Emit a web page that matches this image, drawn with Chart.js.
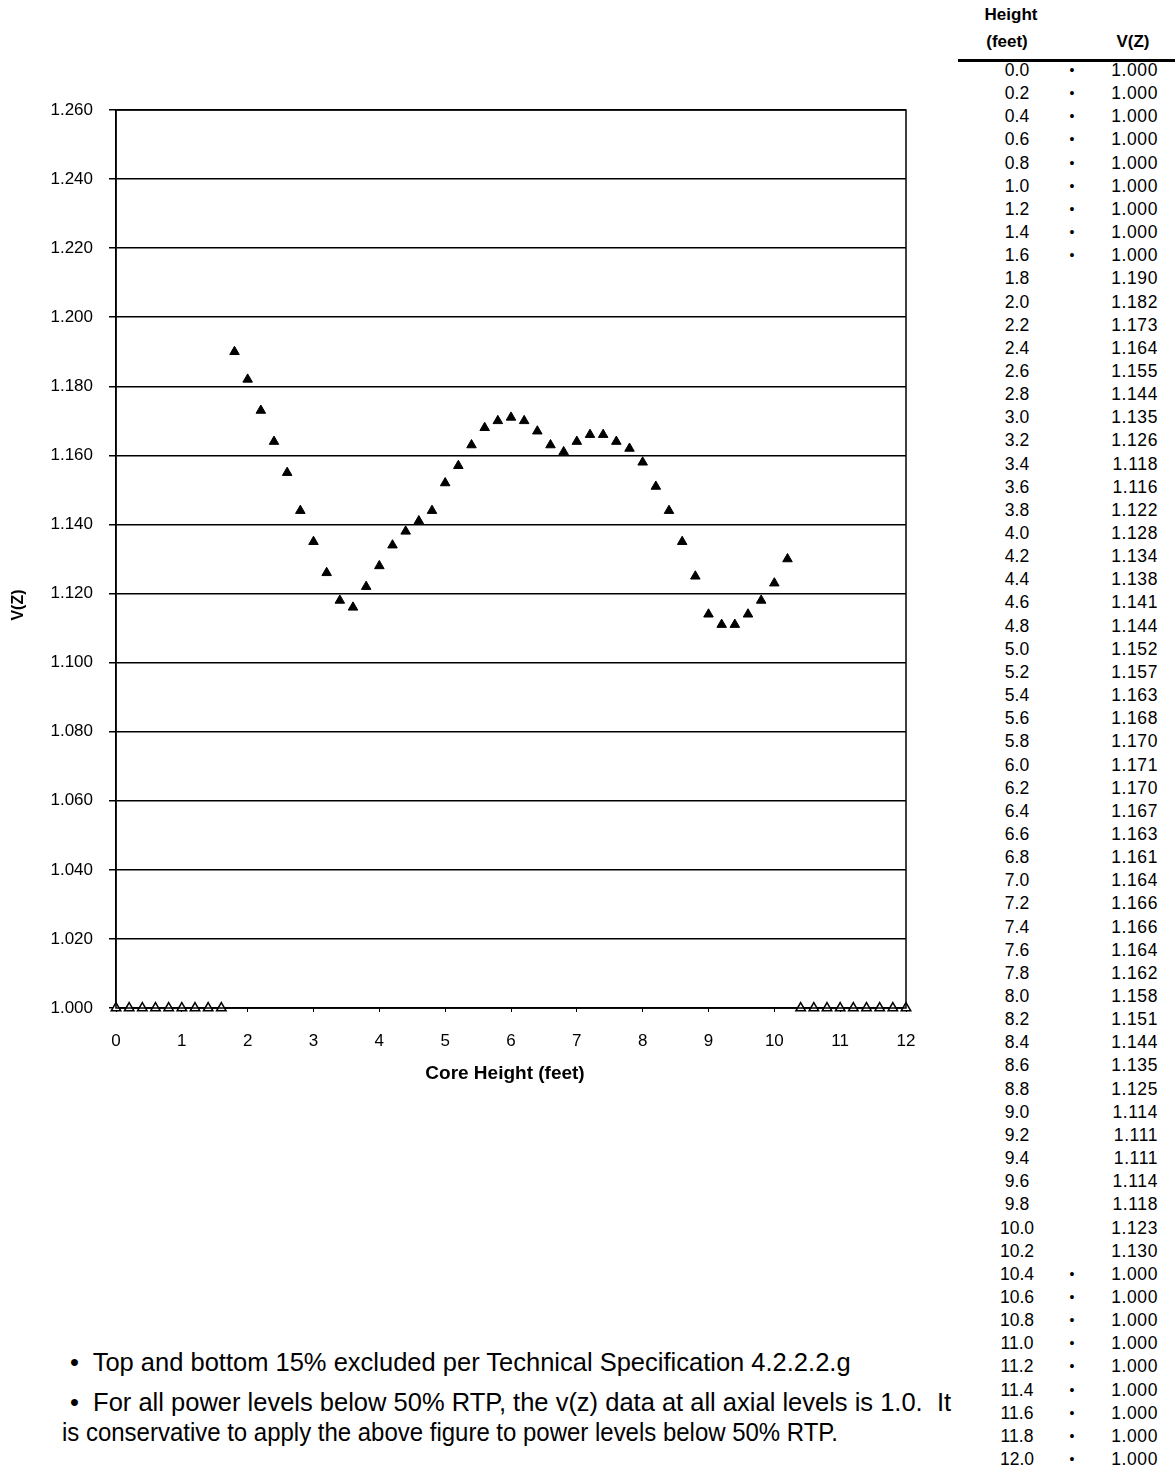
<!DOCTYPE html>
<html>
<head>
<meta charset="utf-8">
<script src="https://cdn.jsdelivr.net/npm/chart.js@4.4.0/dist/chart.umd.min.js"></script>
<style>
  html, body { margin: 0; padding: 0; background: #fff; }
  body { width: 1175px; height: 1472px; position: relative; overflow: hidden; font-family: "Liberation Sans", Arial, sans-serif; color: #000; }
  #wrap { position: absolute; left: 0; top: 0; width: 940px; height: 1100px; }
  .cell { position: absolute; font-size: 17.5px; line-height: 20px; }
  .hdr { position: absolute; font-size: 17px; font-weight: bold; line-height: 20px; }
  .note { position: absolute; font-size: 25.5px; line-height: 30px; white-space: nowrap; transform-origin: left center; }
</style>
</head>
<body>
<div id="wrap"><canvas id="c"></canvas></div>
<div id="table"></div>
<div class="note" style="left:70px; top:1347px;">•&nbsp; Top and bottom 15% excluded per Technical Specification 4.2.2.2.g</div>
<div class="note" style="left:70px; top:1387px;">•&nbsp; For all power levels below 50% RTP, the v(z) data at all axial levels is 1.0.&nbsp; It</div>
<div class="note" style="left:62px; top:1417px; transform:scaleX(0.94);">is conservative to apply the above figure to power levels below 50% RTP.</div>
<script>
// ---- data ----
const heights = [0.0,0.2,0.4,0.6,0.8,1.0,1.2,1.4,1.6,1.8,2.0,2.2,2.4,2.6,2.8,3.0,3.2,3.4,3.6,3.8,4.0,4.2,4.4,4.6,4.8,5.0,5.2,5.4,5.6,5.8,6.0,6.2,6.4,6.6,6.8,7.0,7.2,7.4,7.6,7.8,8.0,8.2,8.4,8.6,8.8,9.0,9.2,9.4,9.6,9.8,10.0,10.2,10.4,10.6,10.8,11.0,11.2,11.4,11.6,11.8,12.0];
const vz = [1.000,1.000,1.000,1.000,1.000,1.000,1.000,1.000,1.000,1.190,1.182,1.173,1.164,1.155,1.144,1.135,1.126,1.118,1.116,1.122,1.128,1.134,1.138,1.141,1.144,1.152,1.157,1.163,1.168,1.170,1.171,1.170,1.167,1.163,1.161,1.164,1.166,1.166,1.164,1.162,1.158,1.151,1.144,1.135,1.125,1.114,1.111,1.111,1.114,1.118,1.123,1.130,1.000,1.000,1.000,1.000,1.000,1.000,1.000,1.000,1.000];
const excluded = [true,true,true,true,true,true,true,true,true,false,false,false,false,false,false,false,false,false,false,false,false,false,false,false,false,false,false,false,false,false,false,false,false,false,false,false,false,false,false,false,false,false,false,false,false,false,false,false,false,false,false,false,true,true,true,true,true,true,true,true,true];
const xTicks = [0,1,2,3,4,5,6,7,8,9,10,11,12];
const yMin = 1.000, yMax = 1.260, yStep = 0.020;
const xTitle = 'Core Height (feet)';
const yTitle = 'V(Z)';

// ---- table ----
const table = document.getElementById('table');
function add(cls, text, style) {
  const d = document.createElement('div');
  d.className = cls; d.textContent = text; d.setAttribute('style', style); table.appendChild(d);
}
add('hdr', 'Height', 'left:961px; top:5px; width:100px; text-align:center;');
add('hdr', '(feet)', 'left:957px; top:32px; width:100px; text-align:center;');
add('hdr', 'V(Z)', 'left:1093px; top:32px; width:80px; text-align:center;');
const line = document.createElement('div');
line.setAttribute('style', 'position:absolute; left:958px; top:59px; width:217px; height:3px; background:#000;');
table.appendChild(line);
heights.forEach((h, i) => {
  const y = 60 + i * 23.15;
  add('cell', h.toFixed(1), `left:977px; top:${y}px; width:80px; text-align:center;`);
  if (excluded[i]) add('cell', '•', `left:1062px; top:${y}px; width:20px; text-align:center; font-size:14px;`);
  add('cell', vz[i].toFixed(3), `left:1080px; top:${y}px; width:78px; text-align:right; letter-spacing:0.6px;`);
});

// ---- chart ----
const inc = [], exc = [];
heights.forEach((h, i) => { (excluded[i] ? exc : inc).push({x: h, y: vz[i]}); });

const framePlugin = {
  id: 'frame',
  afterDraw(chart) {
    const a = chart.chartArea, ctx = chart.ctx;
    ctx.save(); ctx.strokeStyle = '#000'; ctx.lineWidth = 1.5;
    ctx.strokeRect(a.left, a.top, a.right - a.left, a.bottom - a.top);
    ctx.fillStyle = '#000';
    ctx.font = 'bold 19px "Liberation Sans", Arial, sans-serif';
    ctx.textAlign = 'center'; ctx.textBaseline = 'middle';
    ctx.fillText(xTitle, (a.left + a.right) / 2 - 6, 1074);
    ctx.translate(19, 605); ctx.rotate(-Math.PI / 2);
    ctx.font = 'bold 16px "Liberation Sans", Arial, sans-serif';
    ctx.fillText(yTitle, 0, 0);
    ctx.restore();
  }
};

new Chart(document.getElementById('c'), {
  type: 'scatter',
  data: {
    datasets: [
      { label: 'Included', data: inc, clip: false, pointStyle: 'triangle', pointRadius: 5.5, backgroundColor: '#000', borderColor: '#000', borderWidth: 1 },
      { label: 'Excluded', data: exc, clip: false, pointStyle: 'triangle', pointRadius: 5.5, backgroundColor: '#fff', borderColor: '#000', borderWidth: 1.5 }
    ]
  },
  plugins: [framePlugin],
  options: {
    responsive: true, maintainAspectRatio: false, animation: false,
    layout: { padding: { top: 110, right: 34, left: 0, bottom: 0 } },
    plugins: { legend: { display: false }, tooltip: { enabled: false } },
    scales: {
      x: {
        type: 'linear', min: 0, max: 12,
        afterBuildTicks: s => { s.ticks = xTicks.map(v => ({value: v})); },
        afterFit: s => { s.height = 92; },
        grid: { drawOnChartArea: false, color: '#000', tickLength: 4, lineWidth: 1 },
        border: { display: true, color: '#000', width: 1.5 },
        ticks: { color: '#000', font: { family: 'Liberation Sans', size: 17 }, padding: 19, maxRotation: 0 },
        title: { display: false }
      },
      y: {
        type: 'linear', min: yMin, max: yMax,
        ticks: { stepSize: yStep, color: '#000', font: { family: 'Liberation Sans', size: 17 }, padding: 16, callback: v => v.toFixed(3) },
        afterFit: s => { s.width = 116; },
        grid: { color: '#000', lineWidth: 1.5, tickLength: 7 },
        border: { display: true, color: '#000', width: 1.5 },
        title: { display: false }
      }
    }
  }
});
</script>
</body>
</html>
